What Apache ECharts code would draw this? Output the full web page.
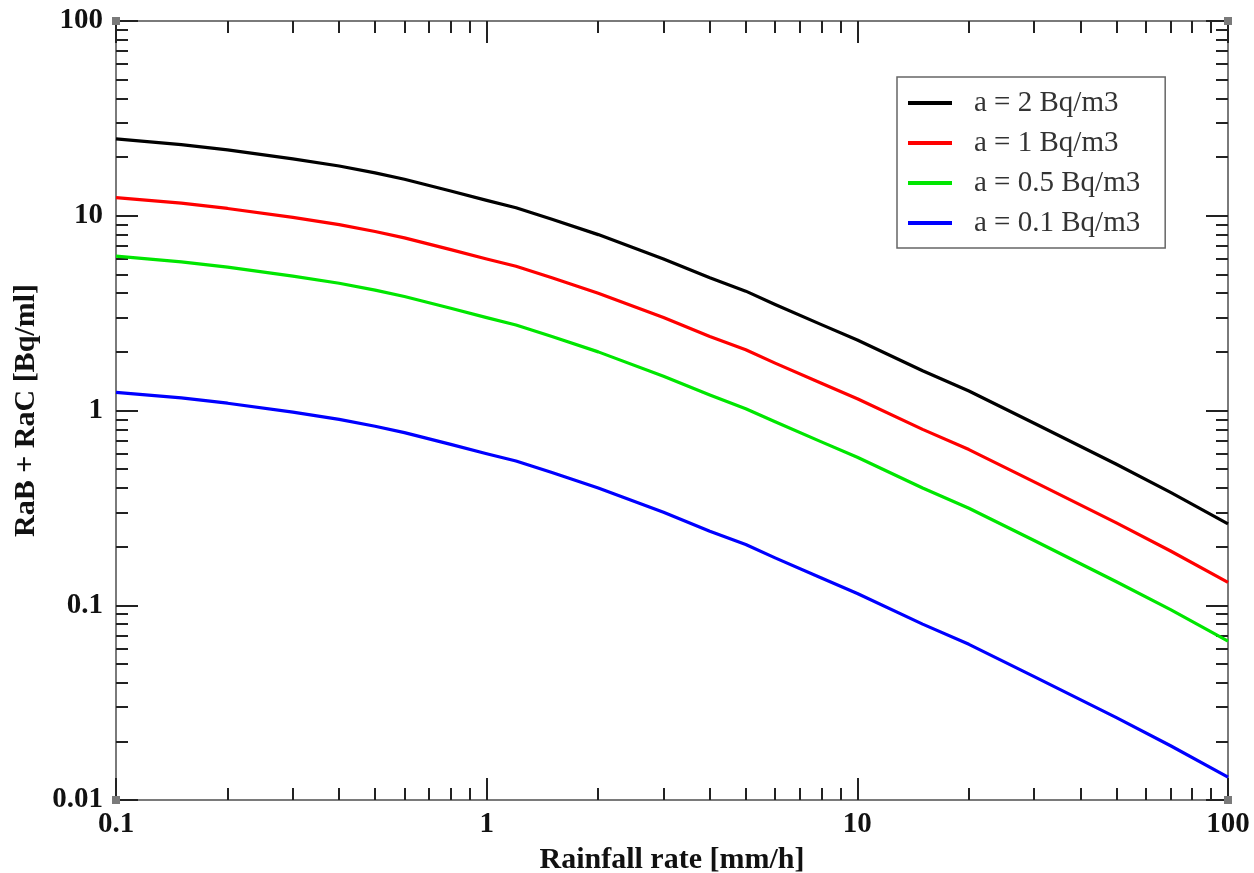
<!DOCTYPE html>
<html>
<head>
<meta charset="utf-8">
<title>RaB + RaC vs rainfall rate</title>
<script src="https://cdn.jsdelivr.net/npm/echarts@6/dist/echarts.min.js"></script>
<style>
  html, body { margin: 0; padding: 0; background: #ffffff; }
  #chart { width: 1254px; height: 873px; }
</style>
</head>
<body>
<div id="chart"></div>
<script>
// Rainfall rate [mm/h]
const rainRate = [0.1, 0.15, 0.2, 0.3, 0.4, 0.5, 0.6, 0.8, 1, 1.2, 1.5, 2, 3, 4, 5, 6, 8, 10, 15, 20, 30, 50, 70, 100];

// RaB + RaC [Bq/ml] for each air concentration a
const seriesNames = ['a = 2 Bq/m3', 'a = 1 Bq/m3', 'a = 0.5 Bq/m3', 'a = 0.1 Bq/m3'];
const seriesColors = ['#000000', '#ff0000', '#00e600', '#0000ff'];
const conc2 = [24.8, 23.2, 21.8, 19.6, 18.0, 16.6, 15.4, 13.4, 12.0, 11.0, 9.6, 8.0, 6.0, 4.8, 4.1, 3.5, 2.76, 2.3, 1.6, 1.26, 0.86, 0.53, 0.38, 0.262];
const conc1 = [12.4, 11.6, 10.9, 9.8, 9.0, 8.3, 7.7, 6.7, 6.0, 5.5, 4.8, 4.0, 3.0, 2.4, 2.05, 1.75, 1.38, 1.15, 0.8, 0.63, 0.43, 0.265, 0.19, 0.131];
const conc05 = [6.2, 5.8, 5.45, 4.9, 4.5, 4.15, 3.85, 3.35, 3.0, 2.75, 2.4, 2.0, 1.5, 1.2, 1.02, 0.875, 0.69, 0.575, 0.4, 0.315, 0.215, 0.132, 0.095, 0.0655];
const conc01 = [1.24, 1.16, 1.09, 0.98, 0.9, 0.83, 0.77, 0.67, 0.6, 0.55, 0.48, 0.4, 0.3, 0.24, 0.205, 0.175, 0.138, 0.115, 0.08, 0.063, 0.043, 0.0265, 0.019, 0.0131];
const seriesValues = [conc2, conc1, conc05, conc01];

// Axis ranges (decades)
const xRange = [0.1, 100];
const yRange = [0.01, 100];

const SERIF = "'Liberation Serif', 'DejaVu Serif', serif";
const AXIS_LINE = '#7a7a7a';
const TICK = '#222222';

// Minor tick positions (2..9 within each decade) expressed in log10 units
function minorLogTicks(lo, hi) {
  const out = [];
  for (let d = Math.round(Math.log10(lo)); d < Math.round(Math.log10(hi)); d++) {
    for (let k = 2; k <= 9; k++) out.push(d + Math.log10(k));
  }
  return out;
}

function fmt(v) { return String(Number(v.toPrecision(6))); }

function majorAxis(position, range, withLabels, extra) {
  return Object.assign({
    type: 'log',
    logBase: 10,
    min: range[0],
    max: range[1],
    position: position,
    axisLine: {
      show: true,
      onZero: false,
      lineStyle: { color: AXIS_LINE, width: 2 },
      symbol: ['rect', 'rect'],
      symbolSize: [8, 8]
    },
    axisTick: { show: true, inside: true, length: 22, lineStyle: { color: TICK, width: 2 } },
    axisLabel: {
      show: withLabels,
      formatter: fmt,
      fontFamily: SERIF,
      fontWeight: 'bold',
      fontSize: 29,
      color: '#111'
    },
    splitLine: { show: false },
    minorTick: { show: false }
  }, extra || {});
}

function minorAxis(position, range) {
  const lo = Math.log10(range[0]), hi = Math.log10(range[1]);
  return {
    type: 'value',
    min: lo,
    max: hi,
    position: position,
    axisLine: { show: false, onZero: false },
    axisLabel: { show: false },
    splitLine: { show: false },
    axisTick: {
      show: true,
      inside: true,
      length: 12,
      customValues: minorLogTicks(range[0], range[1]),
      lineStyle: { color: TICK, width: 2 }
    }
  };
}

const nameStyle = { fontFamily: SERIF, fontWeight: 'bold', fontSize: 30, color: '#111' };

const option = {
  backgroundColor: '#ffffff',
  animation: false,
  grid: { left: 116, right: 26, top: 21, bottom: 73, containLabel: false, outerBoundsMode: 'none' },
  legend: {
    orient: 'vertical',
    left: 897,
    top: 77,
    data: seriesNames,
    icon: 'rect',
    itemWidth: 44,
    itemHeight: 4,
    itemGap: 0,
    padding: [6, 25, 5, 11],
    borderColor: '#666666',
    borderWidth: 1.5,
    backgroundColor: '#ffffff',
    textStyle: {
      fontFamily: SERIF,
      fontSize: 29,
      color: '#333333',
      lineHeight: 40,
      padding: [0, 0, 0, 17]
    }
  },
  xAxis: [
    majorAxis('bottom', xRange, true, {
      name: 'Rainfall rate [mm/h]',
      nameLocation: 'middle',
      nameGap: 45,
      nameTextStyle: nameStyle,
      axisLabel: {
        show: true, formatter: fmt, fontFamily: SERIF, fontWeight: 'bold',
        fontSize: 29, color: '#111', margin: 10
      }
    }),
    minorAxis('bottom', xRange),
    majorAxis('top', xRange, false),
    minorAxis('top', xRange)
  ],
  yAxis: [
    majorAxis('left', yRange, true, {
      name: 'RaB + RaC [Bq/ml]',
      nameLocation: 'middle',
      nameRotate: 90,
      nameGap: 70,
      nameTextStyle: nameStyle,
      axisLabel: {
        show: true, formatter: fmt, fontFamily: SERIF, fontWeight: 'bold',
        fontSize: 29, color: '#111', margin: 13
      }
    }),
    minorAxis('left', yRange),
    majorAxis('right', yRange, false),
    minorAxis('right', yRange)
  ],
  series: seriesNames.map((name, i) => ({
    name: name,
    type: 'line',
    xAxisIndex: 0,
    yAxisIndex: 0,
    data: rainRate.map((x, j) => [x, seriesValues[i][j]]),
    showSymbol: false,
    symbol: 'none',
    smooth: false,
    clip: true,
    lineStyle: { color: seriesColors[i], width: 3.2, join: 'round' },
    itemStyle: { color: seriesColors[i] },
    emphasis: { disabled: true }
  }))
};

const chart = echarts.init(document.getElementById('chart'), null, { renderer: 'canvas' });
chart.setOption(option);
</script>
</body>
</html>
